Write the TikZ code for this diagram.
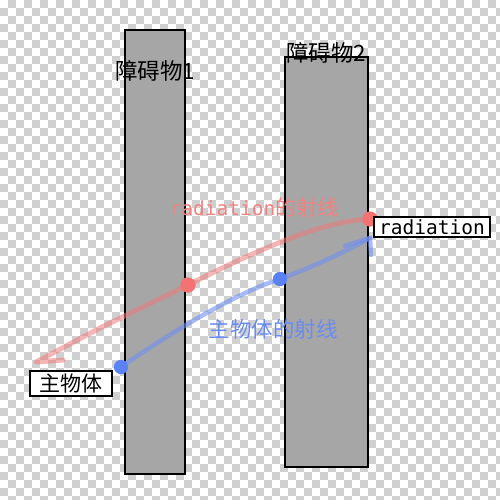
\documentclass[tikz,border=0pt]{standalone}
\usepackage{fontspec}
\newfontfamily\cjk{Noto Sans CJK SC}
\newfontfamily\monof{DejaVu Sans Mono}
\definecolor{chk}{HTML}{D0D0D0}
\definecolor{obst}{HTML}{A6A6A6}
\definecolor{redray}{HTML}{F07A7A}
\definecolor{blueray}{HTML}{6F8FF2}
\definecolor{reddot}{HTML}{F47272}
\definecolor{bluedot}{HTML}{5B82F5}
\definecolor{redtxt}{HTML}{F08282}
\definecolor{bluetxt}{HTML}{6A8CF0}
\tikzset{
  obstacle/.style={draw=black, line width=2pt, fill=obst, inner sep=0pt},
  obstlabel/.style={font=\cjk\fontsize{22.5}{24}\selectfont, inner sep=0pt},
  labelbox/.style={draw=black, line width=1.6pt, fill=white, inner sep=0pt},
  rdot/.style={circle, fill=reddot, minimum size=15pt, inner sep=0pt},
  bdot/.style={circle, fill=bluedot, minimum size=14pt, inner sep=0pt},
  redline/.style={draw=redray, line width=5pt, opacity=0.55, line cap=round, line join=round},
  blueline/.style={draw=blueray, line width=4.5pt, opacity=0.6, line cap=round, line join=round},
}
\begin{document}
\begin{tikzpicture}[x=1pt, y=-1pt]
\useasboundingbox (0,0) rectangle (500,500);
% transparent checkerboard
\fill[white] (0,0) rectangle (500,500);
\foreach \cx in {0,...,62} {
  \foreach \cy in {0,...,62} {
    \ifodd\numexpr\cx+\cy\relax
      \fill[chk] (8*\cx,8*\cy) rectangle ++(8,8);
    \fi
  }
}
% obstacles
\node[obstacle, minimum width=60pt, minimum height=444pt] (ob1) at (155,252) {};
\node[obstacle, minimum width=83pt, minimum height=410pt] (ob2) at (326.5,262) {};
\node[obstlabel] (ob1lab) at (155,71) {障碍物1};
\node[obstlabel] (ob2lab) at (326,53) {障碍物2};
% dots positions
\node[rdot] (r2) at (370,219) {};
\node[rdot] (r1) at (188,285) {};
\node[bdot] (b1) at (121,367) {};
\node[bdot] (b2) at (280,279) {};
\coordinate (rend) at (36,362);
\coordinate (rbarb) at (63,360);
\coordinate (bend) at (370,238);
\coordinate (bbarb1) at (345,246);
\coordinate (bbarb2) at (371,255);
% rays
\draw[redline] (r2.center) .. controls (340,221) and (300,228) .. (r1.center)
   -- (100,328) -- (rend) -- (rbarb);
\draw[blueline] (b1.center) .. controls (160,340) and (230,295) .. (b2.center)
   .. controls (310,268) and (345,252) .. (bend);
\draw[blueline] (bbarb1) -- (bend) -- (bbarb2);
% dots on top
\node[rdot] at (r2) {};
\node[rdot] at (r1) {};
\node[bdot] at (b1) {};
\node[bdot] at (b2) {};
% boxes
\node[labelbox, minimum width=116pt, minimum height=20pt, font=\monof\fontsize{19.5}{20}\selectfont] (rad) at (432,227) {radiation};
\node[labelbox, minimum width=82pt, minimum height=25pt, font=\cjk\fontsize{21}{22}\selectfont] (main) at (71,383.5) {主物体};
% ray labels
\node[text=redtxt, inner sep=0pt] (redlab) at (254,207) {{\monof\fontsize{19.5}{22}\selectfont radiation}{\cjk\fontsize{21}{22}\selectfont 的射线}};
\node[text=bluetxt, inner sep=0pt, font=\cjk\fontsize{21.5}{22}\selectfont] (bluelab) at (273,329) {主物体的射线};
\end{tikzpicture}
\end{document}
